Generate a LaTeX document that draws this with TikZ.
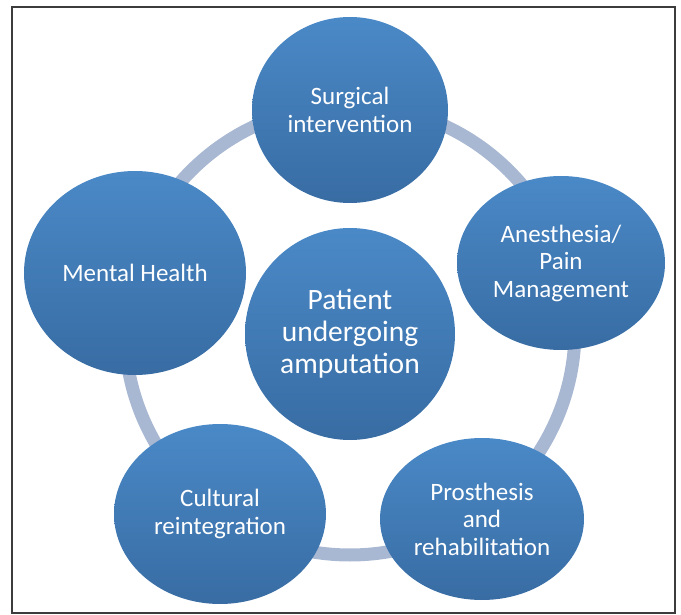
\documentclass[tikz,border=0pt]{standalone}
\usepackage{fontspec}
\setmainfont{Carlito}
\usepackage{xcolor}
\usepackage{tikz}
\usetikzlibrary{shapes.geometric}
\definecolor{bubbletop}{HTML}{4A89C7}
\definecolor{bubblebot}{HTML}{386CA3}
\definecolor{ringgray}{HTML}{A9B8D2}
\definecolor{framegray}{HTML}{3C3C3C}

\tikzset{
  bubble/.style={ellipse, inner sep=0pt, top color=bubbletop, bottom color=bubblebot,
    text=white, align=center, font=\fontsize{25}{27.5}\selectfont},
  hub/.style={bubble, font=\fontsize{29.5}{32}\selectfont},
  ring/.style={draw=ringgray, line width=13pt}
}

\begin{document}
\begin{tikzpicture}[x=1pt,y=-1pt]
        \useasboundingbox (0,0) rectangle (681,615);
        \draw[framegray,line width=2pt] (12,7) rectangle (675,613);

        % ring behind the bubbles
        \coordinate (ringc) at (350,330);
        \draw[ring] (ringc) circle[radius=225pt];

        \node[hub,minimum width=210pt,minimum height=212pt] (patient) at (350,334) {Patient\\undergoing\\amputation};

        \node[bubble,minimum width=196pt,minimum height=186pt] (surgery) at (350,110) {Surgical\\intervention};
        \node[bubble,minimum width=208pt,minimum height=174pt] (anesthesia) at (561,263) {Anesthesia/\\Pain\\Management};
        \node[bubble,minimum width=204pt,minimum height=162pt] (prosthesis) at (482,519) {Prosthesis\\and\\rehabilitation};
        \node[bubble,minimum width=212pt,minimum height=180pt] (culture) at (220,514) {Cultural\\reintegration};
        \node[bubble,minimum width=222pt,minimum height=204pt] (mental) at (135,273) {Mental Health};
      \end{tikzpicture}
\end{document}
